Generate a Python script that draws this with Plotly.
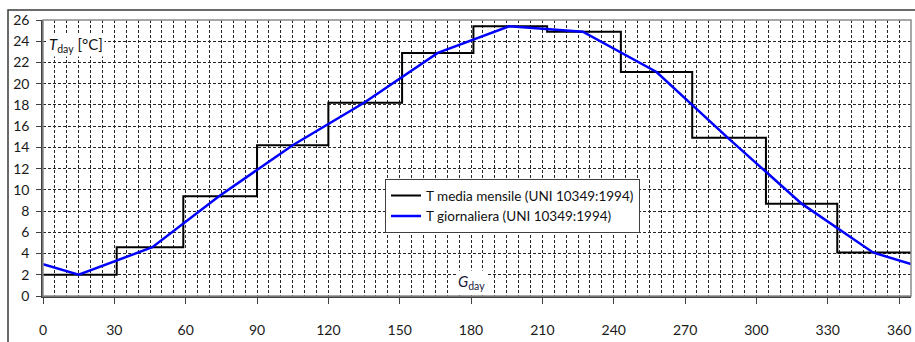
import plotly.graph_objects as go

# Monthly mean temperature (UNI 10349:1994) - step series
month_start_day = [0, 31, 59, 90, 120, 151, 181, 212, 243, 273, 304, 334, 365]
t_monthly = [2.0, 4.6, 9.4, 14.2, 18.2, 22.9, 25.4, 24.9, 21.1, 14.9, 8.7, 4.1, 4.1]

# Daily temperature (UNI 10349:1994) - read at breakpoints
daily_day = [0, 15, 46, 74, 105, 135, 166, 196, 227, 258, 288, 319, 349, 365]
t_daily = [3.0, 2.0, 4.6, 9.4, 14.2, 18.2, 22.9, 25.4, 24.9, 21.1, 14.9, 8.7, 4.1, 3.0]

x_ticks = [0, 30, 60, 90, 120, 150, 180, 210, 240, 270, 300, 330, 360]
y_ticks = list(range(0, 27, 2))

FONT = "Lato"

fig = go.Figure()
fig.add_trace(go.Scatter(
    x=month_start_day, y=t_monthly, mode="lines", line_shape="hv",
    line=dict(color="#000000", width=2),
    name="T media mensile (UNI 10349:1994)"))
fig.add_trace(go.Scatter(
    x=daily_day, y=t_daily, mode="lines",
    line=dict(color="#0000FF", width=2.5),
    name="T giornaliera (UNI 10349:1994)"))

grid_col = "#262626"
fig.update_xaxes(
    range=[0, 365], tickvals=x_ticks, ticks="outside", ticklen=6, tickcolor="#404040",
    showline=True, linecolor="#404040", linewidth=1.5,
    showgrid=True, gridcolor=grid_col, griddash="3px,2px", gridwidth=1,
    minor=dict(dtick=5, tick0=0, showgrid=True, gridcolor=grid_col, griddash="3px,2px", gridwidth=1),
    zeroline=False, ticklabelstandoff=14,
    tickfont=dict(family=FONT, size=14, color="#1a1a1a"))
fig.update_yaxes(
    range=[0, 26], tickvals=y_ticks, ticks="outside", ticklen=5, tickcolor="#404040",
    showline=True, linecolor="#404040", linewidth=1.5,
    showgrid=True, gridcolor=grid_col, griddash="3px,2px", gridwidth=1,
    zeroline=False, ticklabelstandoff=4,
    tickfont=dict(family=FONT, size=14, color="#1a1a1a"))

L, R, T, B = 43, 4, 20, 43
W, H = 915, 342
pw, ph = W - L - R, H - T - B

shapes = [
    # plot border (gray)
    dict(type="rect", xref="paper", yref="paper", x0=0, x1=1, y0=0, y1=1,
         line=dict(color="#8a8a8a", width=1.5), layer="above"),
    # outer chart frame
    dict(type="rect", xref="paper", yref="paper",
         x0=(8 - L) / pw, x1=(W + 10 - L) / pw,
         y0=-(H + 10 - T - ph) / ph, y1=(H - B - 10) / ph,
         line=dict(color="#3a3a3a", width=1.5), layer="above"),
]

fig.update_layout(
    width=W, height=H, margin=dict(l=L, r=R, t=T, b=B),
    paper_bgcolor="white", plot_bgcolor="white",
    shapes=shapes,
    showlegend=True,
    legend=dict(x=(385 - L) / pw, y=(H - B - 181) / ph, xanchor="left", yanchor="top",
                bgcolor="white", bordercolor="#404040", borderwidth=1,
                font=dict(family=FONT, size=13.5, color="#111"),
                tracegroupgap=0, itemwidth=30),
    annotations=[
        dict(text="<i>T</i><sub>day</sub> [°C]", xref="paper", yref="paper",
             x=(47 - L) / pw, y=(H - B - 45) / ph, xanchor="left", yanchor="middle",
             showarrow=False, bgcolor="white", font=dict(family=FONT, size=15, color="#111")),
        dict(text="<i>G</i><sub>day</sub>", xref="x", yref="paper",
             x=180, y=(H - B - 285) / ph, xanchor="center", yanchor="middle",
             showarrow=False, bgcolor="white", font=dict(family=FONT, size=15, color="#1a1a40")),
    ],
)

fig.write_html("out.html")
